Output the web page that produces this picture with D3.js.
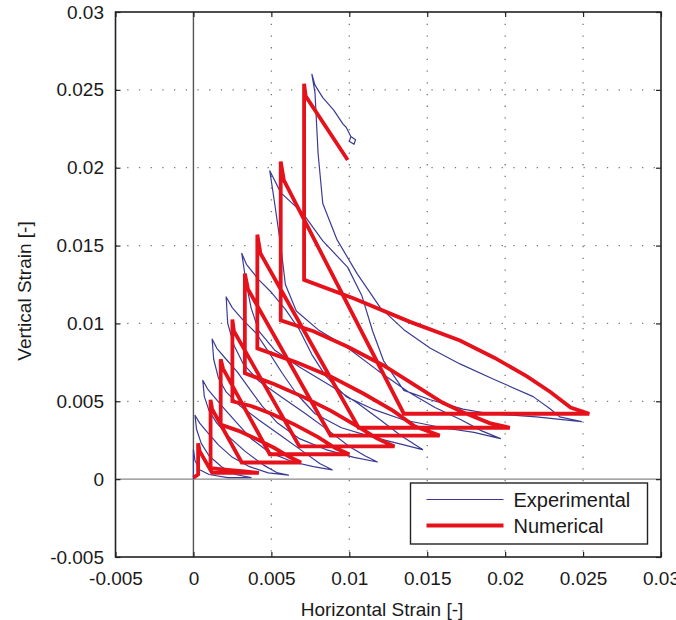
<!DOCTYPE html>
<html lang="en">
<head>
  <meta charset="UTF-8">
  <title>strain</title>
  <style>
    body { margin: 0; background: #fff; }
    text { font-family: "Liberation Sans", Arial, sans-serif; fill: #1a1a1a; }
  </style>
</head>
<body>
  <svg width="676" height="620"></svg>

  <script src="https://d3js.org/d3.v7.min.js"></script>
  <script>
  // 1. data
  var xTicks = [-0.005, 0, 0.005, 0.01, 0.015, 0.02, 0.025, 0.03];
  var xTickLabels = ["-0.005", "0", "0.005", "0.01", "0.015", "0.02", "0.025", "0.03"];
  var yTicks = [-0.005, 0, 0.005, 0.01, 0.015, 0.02, 0.025, 0.03];
  var yTickLabels = ["-0.005", "0", "0.005", "0.01", "0.015", "0.02", "0.025", "0.03"];
  var seriesNames = ["Experimental", "Numerical"];

  // experimental loops: peak -> unloading -> reloading -> next peak
  var expX = [
    0, 0, 0,
    0.0001, 0.0004, 0.0010, 0.0022, 0.0037,
    0.0027, 0.0018, 0.0010, 0.0005, 0.0002, 0.0001,
    0.0004, 0.0009, 0.0016, 0.0025, 0.0036, 0.0048, 0.0061,
    0.0054, 0.0045, 0.0033, 0.0023, 0.0015, 0.0010, 0.0007, 0.0006,
    0.0009, 0.0014, 0.0020, 0.0028, 0.0037, 0.0049, 0.0064, 0.0077, 0.0089,
    0.0081, 0.0070, 0.0056, 0.0042, 0.0030, 0.0021, 0.0016, 0.0013, 0.0012,
    0.0015, 0.0021, 0.0028, 0.0036, 0.0044, 0.0054, 0.0068, 0.0085, 0.0103, 0.0118,
    0.0110, 0.0100, 0.0087, 0.0072, 0.0056, 0.0042, 0.0032, 0.0026, 0.0022, 0.0021,
    0.0025, 0.0032, 0.0040, 0.0048, 0.0057, 0.0066, 0.0078, 0.0095, 0.0115, 0.0135, 0.0147,
    0.0133, 0.0120, 0.0105, 0.0088, 0.0068, 0.0052, 0.0042, 0.0037, 0.0034, 0.0031,
    0.0034, 0.0042, 0.0050, 0.0059, 0.0068, 0.0076, 0.0085, 0.0098, 0.0115, 0.0135, 0.0160, 0.0180, 0.0197,
    0.0185, 0.0172, 0.0155, 0.0138, 0.0118, 0.0098, 0.0080, 0.0066, 0.0059, 0.0056, 0.0052, 0.0049,
    0.0056, 0.0070, 0.0083, 0.0099, 0.0108, 0.0115, 0.0122, 0.0135, 0.0152, 0.0173, 0.0190, 0.0220, 0.0249,
    0.0235, 0.0229, 0.0218, 0.0193, 0.0171, 0.0152, 0.0135, 0.0120, 0.0105, 0.0092, 0.0083, 0.0080, 0.0078, 0.0076,
    0.0078, 0.0083, 0.0090, 0.0096, 0.0098, 0.0101, 0.0104, 0.0103, 0.0100, 0.0101
  ];
  var expY = [
    0, 0.0008, 0.0019,
    0.0012, 0.0006, 0.0003, 0.0001, 0.0001,
    0.0003, 0.0008, 0.0015, 0.0023, 0.0032, 0.0041,
    0.0036, 0.0030, 0.0022, 0.0014, 0.0008, 0.0004, 0.00026,
    0.0004, 0.0009, 0.0018, 0.0027, 0.0036, 0.0044, 0.0053, 0.00635,
    0.0058, 0.0052, 0.0045, 0.0036, 0.0026, 0.0017, 0.0011, 0.0008, 0.0006,
    0.0010, 0.0018, 0.0028, 0.0038, 0.0047, 0.0056, 0.0065, 0.0077, 0.0090,
    0.0084, 0.0077, 0.0069, 0.0058, 0.0047, 0.0036, 0.0026, 0.0019, 0.0014, 0.0011,
    0.0015, 0.0021, 0.0031, 0.0042, 0.0053, 0.0063, 0.0074, 0.0086, 0.0100, 0.0117,
    0.0110, 0.0102, 0.0094, 0.0082, 0.0068, 0.0055, 0.0042, 0.0033, 0.0027, 0.0022, 0.0019,
    0.0028, 0.0038, 0.0049, 0.0060, 0.0072, 0.0083, 0.0095, 0.0110, 0.0125, 0.0145,
    0.0138, 0.0128, 0.0120, 0.0109, 0.0096, 0.0080, 0.0066, 0.0053, 0.0045, 0.0038, 0.0033, 0.0030, 0.0026,
    0.0031, 0.0038, 0.0046, 0.0056, 0.0070, 0.0085, 0.0096, 0.0108, 0.0125, 0.0150, 0.0178, 0.0198,
    0.0184, 0.0171, 0.0153, 0.0136, 0.0118, 0.0095, 0.0076, 0.0057, 0.0051, 0.0045, 0.0042, 0.0040, 0.0037,
    0.0040, 0.0045, 0.0053, 0.0064, 0.0074, 0.0084, 0.0096, 0.0110, 0.0132, 0.0154, 0.0177, 0.0209, 0.0248, 0.0260,
    0.0253, 0.0245, 0.0237, 0.0228, 0.0226, 0.0220, 0.0218, 0.0215, 0.0217, 0.0220
  ];

  // numerical loops: vertical reload -> peak -> diagonal unload -> horizontal -> curved return
  var numX = [
    0, 0.0003, 0.0003, 0.0004, 0.0012, 0.0042,
    0.0033, 0.0022, 0.0011, 0.0011, 0.0012, 0.0031, 0.0069,
    0.0062, 0.0052, 0.0040, 0.0029, 0.00175, 0.00175, 0.0019, 0.0049, 0.0100,
    0.0091, 0.0080, 0.0065, 0.0050, 0.0037, 0.0025, 0.0025, 0.0026, 0.0068, 0.0129,
    0.0118, 0.0105, 0.0088, 0.0070, 0.0052, 0.0033, 0.0033, 0.0035, 0.0088, 0.0158,
    0.0142, 0.0128, 0.0109, 0.0088, 0.0066, 0.0041, 0.0041, 0.0043, 0.0106, 0.0203,
    0.0190, 0.0173, 0.0160, 0.0141, 0.0122, 0.0099, 0.0077, 0.0056, 0.0056, 0.0058, 0.0135, 0.0254,
    0.0242, 0.0229, 0.0214, 0.0193, 0.0171, 0.0139, 0.0103, 0.0071, 0.0071, 0.0072, 0.0099
  ];
  var numY = [
    0.0001, 0.0003, 0.0023, 0.0018, 0.0004, 0.0004,
    0.0005, 0.0006, 0.0007, 0.0051, 0.0045, 0.00107, 0.00107,
    0.0014, 0.0020, 0.0026, 0.0031, 0.0035, 0.0077, 0.0071, 0.0016, 0.0016,
    0.0020, 0.0027, 0.0035, 0.0042, 0.0047, 0.0050, 0.01025, 0.0095, 0.0021, 0.0021,
    0.0026, 0.0034, 0.0044, 0.0053, 0.0061, 0.0068, 0.0132, 0.0122, 0.0028, 0.0028,
    0.0034, 0.0044, 0.0055, 0.0066, 0.0075, 0.0084, 0.0157, 0.0145, 0.0033, 0.0033,
    0.0036, 0.0043, 0.0049, 0.0061, 0.0073, 0.0085, 0.0095, 0.0102, 0.0204, 0.0192, 0.0042, 0.0042,
    0.0046, 0.0056, 0.0066, 0.0078, 0.0089, 0.0101, 0.0116, 0.0128, 0.0254, 0.0246, 0.0205
  ];

  // 2. scales
  var plotLeft = 115.5, plotRight = 661, plotTop = 12, plotBottom = 557;
  var x = d3.scaleLinear().domain([-0.005, 0.03]).range([plotLeft, plotRight]);
  var y = d3.scaleLinear().domain([-0.005, 0.03]).range([plotBottom, plotTop]);

  var svg = d3.select("svg");

  svg.append("clipPath").attr("id", "plot")
    .append("rect")
    .attr("x", plotLeft).attr("y", plotTop)
    .attr("width", plotRight - plotLeft).attr("height", plotBottom - plotTop);

  // grid (dotted), skipping zero and the frame edges
  var gridX = xTicks.filter(function(d) { return d > 0 && d < 0.03; });
  var gridY = yTicks.filter(function(d) { return d > 0 && d < 0.03; });

  svg.append("g").selectAll("line")
    .data(gridX).enter().append("line")
    .attr("x1", function(d) { return x(d); }).attr("x2", function(d) { return x(d); })
    .attr("y1", plotTop).attr("y2", plotBottom)
    .attr("stroke", "#777").attr("stroke-width", 1.3)
    .attr("stroke-dasharray", "1.3,10.4");

  svg.append("g").selectAll("line")
    .data(gridY).enter().append("line")
    .attr("y1", function(d) { return y(d); }).attr("y2", function(d) { return y(d); })
    .attr("x1", plotLeft).attr("x2", plotRight)
    .attr("stroke", "#777").attr("stroke-width", 1.3)
    .attr("stroke-dasharray", "1.3,10.4");

  // zero lines
  svg.append("line")
    .attr("x1", x(0)).attr("x2", x(0)).attr("y1", plotTop).attr("y2", plotBottom)
    .attr("stroke", "#555").attr("stroke-width", 1.4);
  svg.append("line")
    .attr("x1", plotLeft).attr("x2", plotRight).attr("y1", y(0)).attr("y2", y(0))
    .attr("stroke", "#888").attr("stroke-width", 1.4);

  // 3. curves
  var expData = expX.map(function(v, i) { return [v, expY[i]]; });
  var numData = numX.map(function(v, i) { return [v, numY[i]]; });

  var line = d3.line()
    .x(function(d) { return x(d[0]); })
    .y(function(d) { return y(d[1]); });

  var plot = svg.append("g").attr("clip-path", "url(#plot)");

  plot.append("path")
    .datum(expData)
    .attr("d", line)
    .attr("fill", "none")
    .attr("stroke", "#3b3b96")
    .attr("stroke-width", 1.2)
    .attr("stroke-linejoin", "round");

  plot.append("path")
    .datum(numData)
    .attr("d", line)
    .attr("fill", "none")
    .attr("stroke", "#e5121b")
    .attr("stroke-width", 3.8)
    .attr("stroke-linejoin", "miter");

  // 4. axes, ticks pointing inward on all sides
  function styleAxis(g) {
    g.select(".domain").remove();
    g.selectAll(".tick line").attr("stroke", "#222").attr("stroke-width", 1.2);
    g.selectAll("text").attr("font-size", 19).attr("font-family", "Liberation Sans, Arial, sans-serif").attr("fill", "#1a1a1a");
  }

  svg.append("g")
    .attr("transform", "translate(0," + plotBottom + ")")
    .call(d3.axisBottom(x).tickValues(xTicks).tickSize(-5).tickPadding(15)
      .tickFormat(function(d, i) { return xTickLabels[i]; }))
    .call(styleAxis);

  svg.append("g")
    .attr("transform", "translate(0," + plotTop + ")")
    .call(d3.axisTop(x).tickValues(xTicks).tickSize(-5).tickFormat(""))
    .call(styleAxis);

  svg.append("g")
    .attr("transform", "translate(" + plotLeft + ",0)")
    .call(d3.axisLeft(y).tickValues(yTicks).tickSize(-5).tickPadding(11.5)
      .tickFormat(function(d, i) { return yTickLabels[i]; }))
    .call(styleAxis);

  svg.append("g")
    .attr("transform", "translate(" + plotRight + ",0)")
    .call(d3.axisRight(y).tickValues(yTicks).tickSize(-5).tickFormat(""))
    .call(styleAxis);

  // frame
  svg.append("rect")
    .attr("x", plotLeft).attr("y", plotTop)
    .attr("width", plotRight - plotLeft).attr("height", plotBottom - plotTop)
    .attr("fill", "none").attr("stroke", "#222").attr("stroke-width", 1.6);

  // axis titles
  svg.append("text")
    .attr("x", 382).attr("y", 616)
    .attr("text-anchor", "middle")
    .attr("font-size", 19)
    .text("Horizontal Strain [-]");

  svg.append("text")
    .attr("transform", "translate(31,291) rotate(-90)")
    .attr("text-anchor", "middle")
    .attr("font-size", 19)
    .text("Vertical Strain [-]");

  // 5. legend
  var legend = svg.append("g").attr("transform", "translate(410.5,483)");
  legend.append("rect")
    .attr("width", 237).attr("height", 61)
    .attr("fill", "#fff").attr("stroke", "#222").attr("stroke-width", 1.4);

  var items = legend.selectAll(".item")
    .data(seriesNames).enter().append("g")
    .attr("class", "item")
    .attr("transform", function(d, i) { return "translate(0," + (16.5 + i * 26) + ")"; });

  items.append("line")
    .attr("x1", 16).attr("x2", 93)
    .attr("stroke", function(d, i) { return i == 0 ? "#3b3b96" : "#e5121b"; })
    .attr("stroke-width", function(d, i) { return i == 0 ? 1.2 : 3.8; });

  items.append("text")
    .attr("x", 103).attr("y", 7)
    .attr("font-size", 20)
    .text(function(d) { return d; });
  </script>
</body>
</html>
